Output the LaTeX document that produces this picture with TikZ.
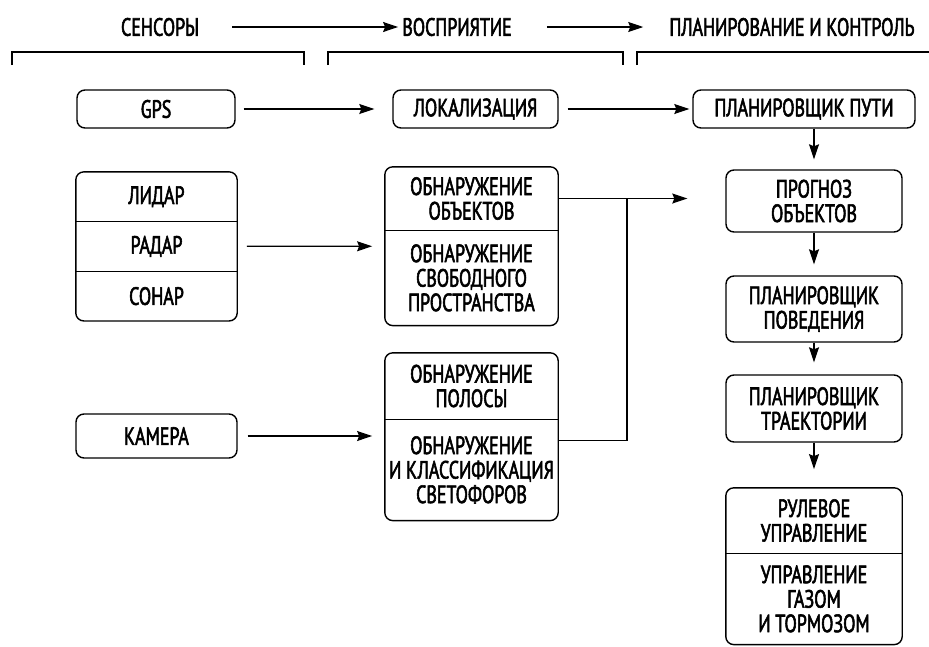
\documentclass[tikz,border=0pt]{standalone}
\usepackage{fontspec}
\setmainfont[FakeStretch=0.72, FakeBold=2.2]{PT Sans}
\usetikzlibrary{arrows.meta, positioning, fit}

\begin{document}
\begin{tikzpicture}[x=1pt, y=-1pt,
  font=\fontsize{25}{24.5}\selectfont, node distance=0pt,
  hdr/.style={inner sep=0pt},
  blk/.style={draw, line width=1.4pt, rounded corners=8pt, align=center, inner sep=0pt},
  part/.style={align=center, inner sep=0pt, minimum width=#1},
  frame/.style={draw, line width=1.4pt, rounded corners=8pt, inner sep=0pt},
  sep/.style={line width=1.4pt},
  brk/.style={line width=2.4pt},
  ar/.style={-{Stealth[length=15pt, width=10pt, inset=2pt]}, line width=1.2pt},
]
\useasboundingbox (0,0) rectangle (929,646);

% headers
\node[hdr] (hsens) at (160,27) {СЕНСОРЫ};
\node[hdr] (hperc) at (457,27) {ВОСПРИЯТИЕ};
\node[hdr] (hplan) at (792,27) {ПЛАНИРОВАНИЕ И КОНТРОЛЬ};
\draw[ar, shorten <=33pt, shorten >=4pt] (hsens.east) -- (hperc.west);
\draw[ar, shorten <=35pt, shorten >=26pt] (hperc.east) -- (hplan.west);

\foreach \a/\b in {12/304, 328/623, 637/935}
  \draw[brk] (\a,65) |- (\b,52) -- (\b,65);

% sensors
\node[blk, minimum width=158pt, minimum height=38pt] (gps) at (156,109) {GPS};
\node[part=161pt, minimum height=49.3pt] (lidar) at (156.5,196.7) {ЛИДАР};
\node[part=161pt, minimum height=49.3pt, below=of lidar] (radar) {РАДАР};
\node[part=161pt, minimum height=49.3pt, below=of radar] (sonar) {СОНАР};
\node[frame, fit=(lidar)(sonar)] (sens) {};
\draw[sep] (lidar.south west) -- (lidar.south east);
\draw[sep] (radar.south west) -- (radar.south east);
\node[blk, minimum width=161pt, minimum height=44pt] (cam) at (156.5,436) {КАМЕРА};

% perception
\node[blk, minimum width=165pt, minimum height=38pt] (loc) at (475.5,109) {ЛОКАЛИЗАЦИЯ};
\node[part=173pt, minimum height=63pt] (objdet) at (471.5,198.5) {ОБНАРУЖЕНИЕ\\ОБЪЕКТОВ};
\node[part=173pt, minimum height=95pt, below=of objdet] (freesp) {ОБНАРУЖЕНИЕ\\СВОБОДНОГО\\ПРОСТРАНСТВА};
\node[frame, fit=(objdet)(freesp)] (perc1) {};
\draw[sep] (objdet.south west) -- (objdet.south east);
\node[part=173pt, minimum height=66pt] (lane) at (471.5,386) {ОБНАРУЖЕНИЕ\\ПОЛОСЫ};
\node[part=173pt, minimum height=101pt, below=of lane] (tlight) {ОБНАРУЖЕНИЕ\\И КЛАССИФИКАЦИЯ\\СВЕТОФОРОВ};
\node[frame, fit=(lane)(tlight)] (perc2) {};
\draw[sep] (lane.south west) -- (lane.south east);

% planning and control
\node[blk, minimum width=222pt, minimum height=38pt] (route) at (804,109) {ПЛАНИРОВЩИК ПУТИ};
\node[blk, minimum width=176pt, minimum height=62pt] (pred) at (814,201) {ПРОГНОЗ\\ОБЪЕКТОВ};
\node[blk, minimum width=176pt, minimum height=66pt] (behav) at (814,309) {ПЛАНИРОВЩИК\\ПОВЕДЕНИЯ};
\node[blk, minimum width=176pt, minimum height=67pt] (traj) at (814,408.5) {ПЛАНИРОВЩИК\\ТРАЕКТОРИИ};
\node[part=176pt, minimum height=65pt] (steer) at (814,520.5) {РУЛЕВОЕ\\УПРАВЛЕНИЕ};
\node[part=176pt, minimum height=91pt, below=of steer] (thr) {УПРАВЛЕНИЕ\\ГАЗОМ\\И ТОРМОЗОМ};
\node[frame, fit=(steer)(thr)] (ctrl) {};
\draw[sep] (steer.south west) -- (steer.south east);

% connectors
\draw[ar, shorten <=8pt, shorten >=18pt] (gps) -- (loc);
\draw[ar, shorten <=9pt, shorten >=3pt] (loc) -- (route);
\draw[ar, shorten <=9pt, shorten >=12pt] (sens) -- (perc1);
\draw[ar, shorten <=10pt, shorten >=12pt] (cam.east) -- (cam.east -| perc2.west);
\draw[ar, shorten >=38pt] (objdet.east) -- (objdet.east -| pred.west);
\coordinate (mrg) at (627,198.5);
\draw[line width=1.2pt] ([yshift=29.5pt]tlight.east) -| (mrg);
\draw[ar, shorten >=10pt] (route.south -| pred) -- (pred);
\foreach \a/\b/\s in {pred/behav/11, behav/traj/12, traj/ctrl/18}
  \draw[ar, shorten >=\s pt] (\a) -- (\b);
\end{tikzpicture}
\end{document}
